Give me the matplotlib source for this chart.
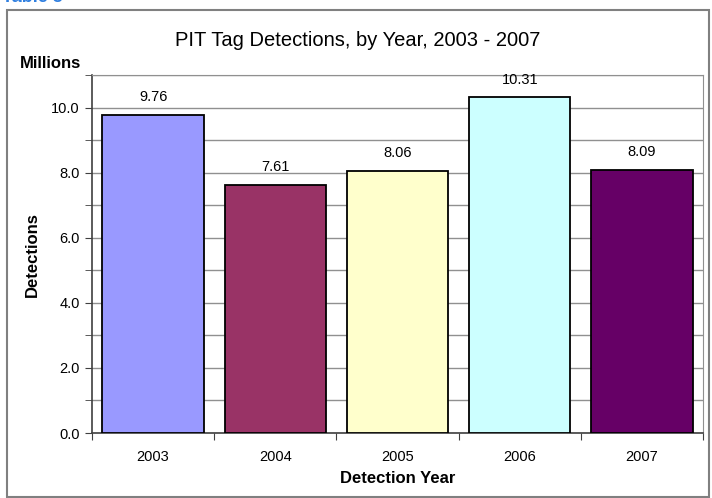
import matplotlib.pyplot as plt
import matplotlib.patches as patches
from matplotlib.ticker import MultipleLocator

plt.rcParams['font.family'] = ['Liberation Sans', 'DejaVu Sans']

# Data (millions of detections)
years = ['2003', '2004', '2005', '2006', '2007']
detections = [9.76, 7.61, 8.06, 10.31, 8.09]
bar_colors = ['#9999FF', '#993366', '#FFFFCC', '#CCFFFF', '#660066']
yticks = [0, 2, 4, 6, 8, 10]

fig = plt.figure(figsize=(7.12, 4.98), dpi=100)
ax = fig.add_axes([92 / 712, 65 / 498, 611 / 712, 358 / 498])

x = range(len(years))
ax.bar(x, detections, width=0.83, color=bar_colors, edgecolor='black',
       linewidth=1.3, zorder=3)

for i, v in enumerate(detections):
    ax.text(i, v + 0.55, f'{v:.2f}', ha='center', va='center', fontsize=10.5)

ax.set_xlim(-0.5, len(years) - 0.5)
ax.set_ylim(0, 11)
ax.yaxis.set_minor_locator(MultipleLocator(1))
ax.set_yticks(yticks)
ax.set_yticklabels([f'{v:.1f}' for v in yticks], fontsize=10.5)
ax.grid(axis='y', which='both', color='#909090', linewidth=1.0, zorder=0)

# category labels between boundary ticks
ax.set_xticks([i - 0.5 for i in range(len(years) + 1)])
ax.set_xticklabels([])
ax.set_xticks(list(x), minor=True)
ax.set_xticklabels(years, minor=True, fontsize=10.5)
ax.tick_params(axis='x', which='minor', length=0, pad=12)
ax.tick_params(axis='x', which='major', length=5, color='#404040', direction='out')
ax.tick_params(axis='y', which='both', length=5, color='#404040', direction='out', pad=4)

for side in ['top', 'right']:
    ax.spines[side].set_color('#909090')
for side in ['left', 'bottom']:
    ax.spines[side].set_color('#404040')
    ax.spines[side].set_linewidth(1.2)

ax.set_xlabel('Detection Year', fontsize=12, fontweight='bold', labelpad=5)
fig.text(32 / 712, 1 - 255 / 498, 'Detections', rotation=90, ha='center',
         va='center', fontsize=12, fontweight='bold')
fig.text(20 / 712, 1 - 63 / 498, 'Millions', ha='left', va='center',
         fontsize=12, fontweight='bold')
fig.text(358 / 712, 1 - 40 / 498, 'PIT Tag Detections, by Year, 2003 - 2007',
         ha='center', va='center', fontsize=14.5)

# heading cut off at the top edge
fig.text(2 / 712, 1 - 1.5 / 498, 'Table 3', ha='left', va='baseline',
         fontsize=13, fontweight='bold', color='#2F7FE0')

# outer chart frame
fig.patches.append(patches.Rectangle((7 / 712, 1 / 498), 702 / 712, 487 / 498,
                                     transform=fig.transFigure, fill=False,
                                     edgecolor='#808080', linewidth=1.5))

fig.savefig('out.png', dpi=100)
